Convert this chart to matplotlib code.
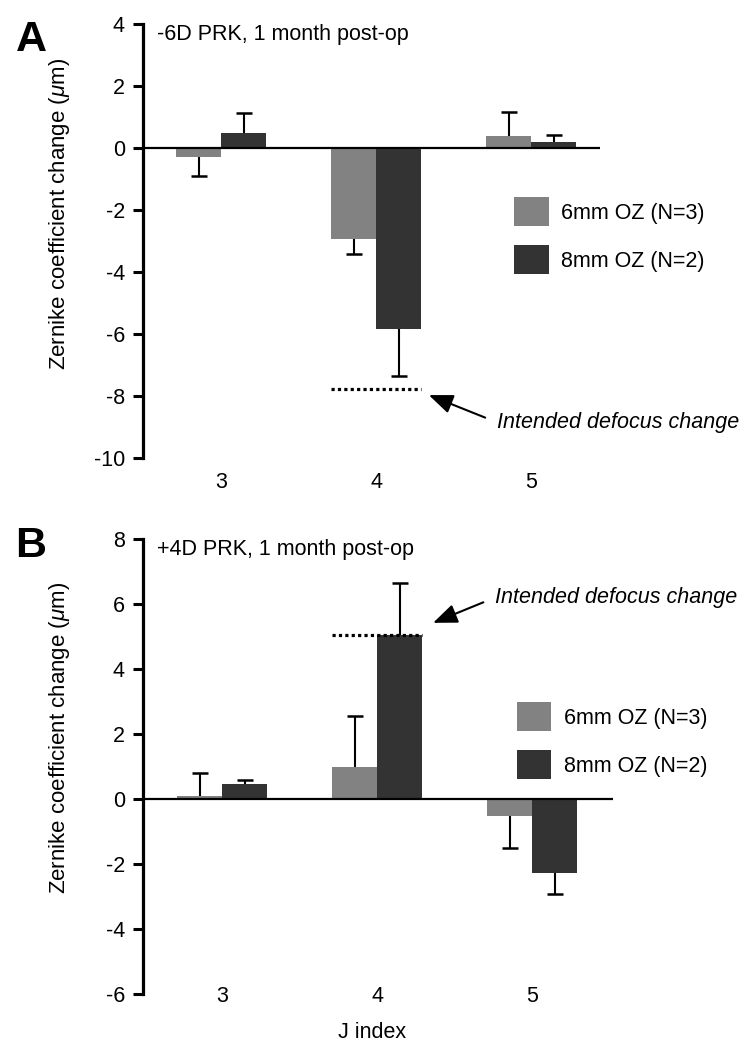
import numpy as np
import matplotlib
matplotlib.use("Agg")
import matplotlib.pyplot as plt
from matplotlib.patches import Patch

plt.rcParams['font.family'] = ['Liberation Sans', 'DejaVu Sans']
plt.rcParams['axes.unicode_minus'] = False
plt.rcParams['mathtext.fontset'] = 'custom'
plt.rcParams['mathtext.it'] = 'Liberation Sans:italic'
plt.rcParams['mathtext.rm'] = 'Liberation Sans'

j_index = ['3', '4', '5']
labels = ['6mm OZ (N=3)', '8mm OZ (N=2)']
colors = ['#828282', '#333333']

# panel A: -6D PRK
a_6mm = [-0.28, -2.94, 0.40]
a_6mm_err = [0.61, 0.49, 0.76]
a_8mm = [0.47, -5.84, 0.18]
a_8mm_err = [0.65, 1.52, 0.25]
a_intended = -7.78

# panel B: +4D PRK
b_6mm = [0.08, 1.00, -0.51]
b_6mm_err = [0.71, 1.55, 1.01]
b_8mm = [0.45, 5.05, -2.27]
b_8mm_err = [0.15, 1.61, 0.65]
b_intended = 5.05

W, H = 752, 1055
fig = plt.figure(figsize=(W / 100, H / 100), dpi=100)
FS = 15.5


def px_axes(left, top, right, bottom):
    return fig.add_axes([left / W, 1 - bottom / H, (right - left) / W, (bottom - top) / H])


def draw_panel(ax, v6, e6, v8, e8, intended, ylim, yticks, xlim, title, tick_pad):
    x = np.arange(len(j_index))
    w = 0.29
    for vals, errs, off, c in [(v6, e6, -w / 2, colors[0]), (v8, e8, w / 2, colors[1])]:
        vals = np.array(vals)
        ends = vals + np.sign(vals) * np.array(errs)
        ax.bar(x + off, vals, w, color=c, linewidth=0, zorder=2)
        # one-sided error bars, pointing away from zero
        ax.vlines(x + off, vals, ends, colors='black', lw=1.5, zorder=3)
        ax.plot(x + off, ends, linestyle='none', marker='_', markersize=11,
                markeredgewidth=1.8, color='black', zorder=3)
    ax.axhline(0, color='black', lw=1.6, zorder=4)
    ax.hlines(intended, 1 - w, 1 + w, colors='black', linestyles=(0, (1, 1)), lw=2.3, zorder=5)

    ax.set_xlim(*xlim)
    ax.set_ylim(*ylim)
    ax.set_yticks(yticks)
    ax.set_yticklabels([str(t) for t in yticks])
    ax.set_xticks(x)
    ax.set_xticklabels(j_index)
    for s in ['top', 'right', 'bottom']:
        ax.spines[s].set_visible(False)
    ax.spines['left'].set_linewidth(2.3)
    ax.tick_params(axis='y', length=7, width=2.2, pad=6, labelsize=FS)
    ax.tick_params(axis='x', length=0, pad=tick_pad, labelsize=FS)
    ax.set_ylabel(r'Zernike coefficient change ($\mu$m)', fontsize=16)
    ax.text(0.03, 1.0, title, transform=ax.transAxes, fontsize=FS, va='top', ha='left')


arrow = dict(arrowstyle='-|>,head_length=0.95,head_width=0.38', color='black', lw=1.5,
             shrinkA=7, shrinkB=0, relpos=(0, 0.5))

axA = px_axes(143, 24, 600, 458)
draw_panel(axA, a_6mm, a_6mm_err, a_8mm, a_8mm_err, a_intended,
           (-10, 4), [-10, -8, -6, -4, -2, 0, 2, 4], (-0.505, 2.445),
           '-6D PRK, 1 month post-op', 10)
axA.yaxis.set_label_coords(-0.155, 0.562)
axA.annotate('Intended defocus change', xy=(1.34, -7.97), xytext=(1.78, -8.85),
             fontsize=FS, style='italic', va='center', ha='left', arrowprops=arrow)

axB = px_axes(143, 539, 613, 994)
draw_panel(axB, b_6mm, b_6mm_err, b_8mm, b_8mm_err, b_intended,
           (-6, 8), [-6, -4, -2, 0, 2, 4, 6, 8], (-0.51, 2.52),
           '+4D PRK, 1 month post-op', -5.5)
axB.yaxis.set_label_coords(-0.151, 0.562)
axB.annotate('Intended defocus change', xy=(1.36, 5.42), xytext=(1.76, 6.2),
             fontsize=FS, style='italic', va='center', ha='left', arrowprops=arrow)

handles = [Patch(facecolor=c, edgecolor='none') for c in colors]
for ax, anchor in [(axA, (0.812, 0.601)), (axB, (0.795, 0.641))]:
    ax.legend(handles, labels, loc='upper left', bbox_to_anchor=anchor, frameon=False,
              fontsize=FS, handlelength=1.6, handleheight=1.7, handletextpad=0.6,
              labelspacing=0.88, borderpad=0, borderaxespad=0)

fig.text(372 / W, 1 - 1032 / H, 'J index', fontsize=FS, ha='center', va='center')
fig.text(16 / W, 1 - 51 / H, 'A', fontsize=31, fontweight='bold', va='baseline')
fig.text(15 / W, 1 - 557 / H, 'B', fontsize=31, fontweight='bold', va='baseline')

fig.savefig('out.png', dpi=100)
